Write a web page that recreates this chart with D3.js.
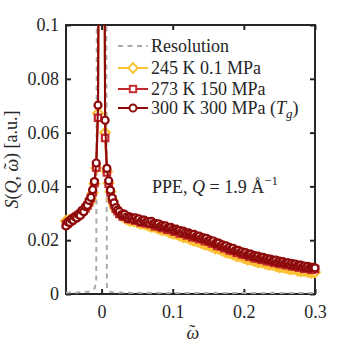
<!DOCTYPE html>
<meta charset="utf-8">
<body style="margin:0;background:#fff">
<script src="https://cdn.jsdelivr.net/npm/d3@7/dist/d3.min.js"></script>
<svg id="chart" width="349" height="349"></svg>
<script>

// energy transfer grid (reduced units)
var omega = [-0.05,-0.0475,-0.045,-0.0425,-0.04,-0.0375,-0.035,-0.0325,-0.03,-0.0275,
  -0.025,-0.0225,-0.02,-0.0175,-0.015,-0.0125,-0.01,-0.0075,-0.005,-0.0025,
  0,0.0025,0.005,0.0075,0.01,0.0125,0.015,0.0175,0.02,0.0225,
  0.025,0.0275,0.03,0.0325,0.035,0.0375,0.04,0.0425,0.045,0.0475,
  0.05,0.0525,0.055,0.0575,0.06,0.0625,0.065,0.0675,0.07,0.0725,
  0.075,0.0775,0.08,0.0825,0.085,0.0875,0.09,0.0925,0.095,0.0975,
  0.1,0.1025,0.105,0.1075,0.11,0.1125,0.115,0.1175,0.12,0.1225,
  0.125,0.1275,0.13,0.1325,0.135,0.1375,0.14,0.1425,0.145,0.1475,
  0.15,0.1525,0.155,0.1575,0.16,0.1625,0.165,0.1675,0.17,0.1725,
  0.175,0.1775,0.18,0.1825,0.185,0.1875,0.19,0.1925,0.195,0.1975,
  0.2,0.2025,0.205,0.2075,0.21,0.2125,0.215,0.2175,0.22,0.2225,
  0.225,0.2275,0.23,0.2325,0.235,0.2375,0.24,0.2425,0.245,0.2475,
  0.25,0.2525,0.255,0.2575,0.26,0.2625,0.265,0.2675,0.27,0.2725,
  0.275,0.2775,0.28,0.2825,0.285,0.2875,0.29,0.2925,0.295,0.2975,0.3];

var resolution = [.0006,.0005,.0006,.0005,.0006,.0006,.0005,.0006,.0007,.0006,
  .0007,.0008,.0008,.0009,.0011,.0014,.0020,.0045,.3,2,
  5,2,.3,.0018,.0010,.0008,.0007,.0006,.0006,.0005,
  .0005,.0006,.0005,.0005,.0004,.0005,.0005,.0004,.0005,.0005,
  .0004,.0005,.0004,.0004,.0005,.0004,.0004,.0005,.0004,.0004,
  .0004,.0005,.0004,.0004,.0004,.0005,.0004,.0004,.0004,.0004,
  .0005,.0004,.0004,.0004,.0004,.0005,.0004,.0004,.0004,.0004,
  .0004,.0005,.0004,.0004,.0004,.0004,.0004,.0005,.0004,.0004,
  .0004,.0004,.0004,.0004,.0005,.0004,.0004,.0004,.0004,.0004,
  .0004,.0004,.0005,.0004,.0004,.0004,.0004,.0004,.0004,.0004,
  .0004,.0004,.0004,.0005,.0004,.0004,.0004,.0004,.0004,.0004,
  .0004,.0004,.0004,.0004,.0004,.0004,.0005,.0004,.0004,.0004,
  .0004,.0004,.0004,.0004,.0004,.0004,.0004,.0004,.0004,.0005,
  .0004,.0004,.0004,.0004,.0004,.0004,.0004,.0004,.0004,.0004,.0004];

var s245 = [.0272,.0270,.0275,.0276,.0282,.0284,.0289,.0292,.0298,.0303,
  .0310,.0317,.0327,.0339,.0354,.0376,.0410,.0468,.0672,.23,
  1.15,.25,.0600,.0455,.0412,.0380,.0350,.0330,.0315,.0306,
  .0300,.0292,.0287,.0289,.0278,.0282,.0272,.0279,.0271,.0273,
  .0267,.0266,.0262,.0263,.0261,.0260,.0255,.0254,.0250,.0251,
  .0249,.0248,.0243,.0242,.0238,.0239,.0237,.0236,.0230,.0229,
  .0225,.0226,.0223,.0222,.0217,.0216,.0211,.0212,.0210,.0209,
  .0203,.0202,.0198,.0199,.0196,.0195,.0190,.0189,.0184,.0185,
  .0182,.0181,.0176,.0175,.0170,.0171,.0168,.0167,.0161,.0160,
  .0155,.0156,.0153,.0152,.0147,.0146,.0141,.0142,.0140,.0139,
  .0134,.0133,.0129,.0130,.0128,.0128,.0123,.0122,.0118,.0120,
  .0118,.0118,.0113,.0113,.0109,.0111,.0109,.0109,.0104,.0104,
  .0100,.0102,.0100,.0100,.0096,.0096,.0092,.0094,.0093,.0093,
  .0088,.0089,.0085,.0088,.0086,.0087,.0082,.0083,.0079,.0082,.0081];

var s273 = [.0258,.0262,.0268,.0273,.0279,.0283,.0287,.0293,.0298,.0305,
  .0311,.0319,.0329,.0341,.0357,.0378,.0412,.0470,.0655,.22,
  1.1,.24,.0580,.0452,.0410,.0378,.0352,.0333,.0317,.0308,
  .0298,.0299,.0288,.0289,.0288,.0279,.0283,.0278,.0281,.0273,
  .0274,.0274,.0266,.0272,.0268,.0263,.0268,.0260,.0261,.0261,
  .0252,.0256,.0251,.0254,.0245,.0247,.0248,.0239,.0243,.0238,
  .0241,.0232,.0234,.0234,.0225,.0229,.0224,.0227,.0218,.0220,
  .0220,.0211,.0215,.0210,.0212,.0204,.0206,.0206,.0197,.0200,
  .0195,.0196,.0188,.0189,.0189,.0179,.0183,.0177,.0179,.0170,
  .0172,.0171,.0162,.0165,.0160,.0162,.0153,.0155,.0155,.0147,
  .0150,.0145,.0147,.0139,.0141,.0141,.0133,.0137,.0132,.0134,
  .0127,.0129,.0130,.0122,.0126,.0121,.0124,.0116,.0119,.0119,
  .0112,.0116,.0111,.0114,.0107,.0109,.0110,.0103,.0106,.0102,
  .0105,.0098,.0100,.0101,.0094,.0098,.0094,.0097,.0090,.0093,.0093];

var s300 = [.0253,.0268,.0266,.0278,.0274,.0287,.0283,.0296,.0292,.0310,
  .0306,.0325,.0330,.0348,.0359,.0388,.0418,.0487,.0702,.24,
  1.2,.26,.0646,.0467,.0421,.0386,.0357,.0339,.0321,.0312,
  .0306,.0294,.0295,.0296,.0286,.0281,.0286,.0282,.0277,.0283,
  .0276,.0279,.0269,.0275,.0275,.0267,.0269,.0263,.0270,.0261,
  .0263,.0258,.0261,.0251,.0255,.0251,.0253,.0245,.0247,.0248,
  .0240,.0236,.0241,.0236,.0236,.0229,.0234,.0227,.0222,.0227,
  .0223,.0218,.0222,.0213,.0214,.0215,.0206,.0210,.0205,.0207,
  .0198,.0200,.0194,.0197,.0188,.0189,.0189,.0179,.0183,.0177,
  .0179,.0170,.0173,.0166,.0170,.0161,.0162,.0162,.0154,.0157,
  .0151,.0154,.0146,.0148,.0148,.0140,.0143,.0138,.0141,.0133,
  .0136,.0136,.0129,.0132,.0127,.0130,.0123,.0125,.0126,.0118,
  .0122,.0117,.0120,.0113,.0116,.0116,.0109,.0113,.0107,.0111,
  .0104,.0107,.0107,.0100,.0104,.0099,.0103,.0096,.0099,.0099,.0097];

var xTicks = [0, 0.1, 0.2, 0.3];
var xTickLabels = ["0", "0.1", "0.2", "0.3"];
var yTicks = [0, 0.02, 0.04, 0.06, 0.08, 0.1];
var yTickLabels = ["0", "0.02", "0.04", "0.06", "0.08", "0.1"];
var legendLabels = ["Resolution", "245 K 0.1 MPa", "273 K 150 MPa", "300 K 300 MPa"];

(function() {
var axisColor = "#262626";
var font = "'Liberation Serif', 'Times New Roman', serif";

var svg = d3.select("#chart");
var mLeft = 66, mRight = 315, mTop = 25, mBottom = 294;

var x = d3.scaleLinear().domain([-0.05, 0.3]).range([mLeft, mRight]);
var y = d3.scaleLinear().domain([0, 0.1]).range([mBottom, mTop]);

// axes (inward ticks, mirrored on all sides)
function styleAxis(g) {
  g.select(".domain").remove();
  g.selectAll(".tick line").attr("stroke", axisColor).attr("stroke-width", 2);
  g.selectAll(".tick text").attr("fill", axisColor)
    .style("font-family", font).style("font-size", "18px");
}
svg.append("g").attr("transform", "translate(0," + mBottom + ")")
  .call(d3.axisBottom(x).tickValues(xTicks).tickSizeInner(-5).tickSizeOuter(0)
    .tickPadding(11).tickFormat(function(d, i) { return xTickLabels[i]; }))
  .call(styleAxis);
svg.append("g").attr("transform", "translate(0," + mTop + ")")
  .call(d3.axisTop(x).tickValues(xTicks).tickSizeInner(-5).tickSizeOuter(0).tickFormat(""))
  .call(styleAxis);
svg.append("g").attr("transform", "translate(" + mLeft + ",0)")
  .call(d3.axisLeft(y).tickValues(yTicks).tickSizeInner(-5).tickSizeOuter(0)
    .tickPadding(7).tickFormat(function(d, i) { return yTickLabels[i]; }))
  .call(styleAxis);
svg.append("g").attr("transform", "translate(" + mRight + ",0)")
  .call(d3.axisRight(y).tickValues(yTicks).tickSizeInner(-5).tickSizeOuter(0).tickFormat(""))
  .call(styleAxis);

svg.append("rect")
  .attr("x", mLeft).attr("y", mTop)
  .attr("width", mRight - mLeft).attr("height", mBottom - mTop)
  .attr("fill", "none").attr("stroke", axisColor).attr("stroke-width", 2);

svg.append("clipPath").attr("id", "plotclip")
  .append("rect").attr("x", mLeft).attr("y", mTop)
  .attr("width", mRight - mLeft).attr("height", mBottom - mTop);

var series = [
  {name: legendLabels[0], values: resolution, color: "#aaaaaa", dash: "5,4.5", marker: null},
  {name: legendLabels[1], values: s245, color: "#fdc234", marker: "diamond"},
  {name: legendLabels[2], values: s273, color: "#c1272d", marker: "square"},
  {name: legendLabels[3], values: s300, color: "#8e0a0a", marker: "circle"}
];

var line = d3.line()
  .x(function(d, i) { return x(omega[i]); })
  .y(function(d) { return y(d); });

function drawMarker(g, kind, color, sw) {
  if (kind === "circle") {
    g.append("circle").attr("r", 3.5);
  } else if (kind === "square") {
    g.append("rect").attr("x", -3.2).attr("y", -3.2).attr("width", 6.4).attr("height", 6.4);
  } else if (kind === "diamond") {
    g.append("path").attr("d", "M0,-4.8L4.8,0L0,4.8L-4.8,0Z");
  }
  g.selectAll("*").attr("fill", "#fff").attr("stroke", color).attr("stroke-width", sw);
}

series.forEach(function(s) {
  var g = svg.append("g");
  g.append("path")
    .attr("clip-path", "url(#plotclip)")
    .attr("d", line(s.values))
    .attr("fill", "none")
    .attr("stroke", s.color)
    .attr("stroke-width", 2)
    .attr("stroke-dasharray", s.dash || null)
    .attr("stroke-linejoin", "round");
  if (s.marker) {
    s.values.forEach(function(v, i) {
      if (v > 0.1) return;
      var m = g.append("g").attr("transform", "translate(" + x(omega[i]) + "," + y(v) + ")");
      drawMarker(m, s.marker, s.color, 2.2);
    });
  }
});

// legend
var legendY = [46, 68, 89, 108];
series.forEach(function(s, i) {
  var g = svg.append("g").attr("transform", "translate(0," + legendY[i] + ")");
  g.append("line").attr("x1", 118).attr("x2", 148)
    .attr("stroke", s.color).attr("stroke-width", 2)
    .attr("stroke-dasharray", s.dash || null);
  if (s.marker) {
    var m = g.append("g").attr("transform", "translate(133,0)");
    drawMarker(m, s.marker, s.color, 1.9);
  }
  var t = g.append("text").attr("x", 151).attr("y", 6)
    .attr("fill", axisColor)
    .style("font-family", font).style("font-size", "18px");
  t.append("tspan").text(s.name);
  if (i === 3) {
    t.append("tspan").text(" (");
    t.append("tspan").style("font-style", "italic").text("T");
    t.append("tspan").style("font-style", "italic").style("font-size", "13px")
      .attr("dy", 4).text("g");
    t.append("tspan").attr("dy", -4).text(")");
  }
});

// annotation
var ann = svg.append("text").attr("x", 152).attr("y", 193)
  .attr("fill", axisColor)
  .style("font-family", font).style("font-size", "18px");
ann.append("tspan").text("PPE, ");
ann.append("tspan").style("font-style", "italic").text("Q");
ann.append("tspan").text(" = 1.9 Å");
ann.append("tspan").style("font-size", "13px").attr("dy", -8).text("−1");

// omega with tilde, placed by hand
function omegaTilde(t) {
  t.append("tspan").style("font-style", "italic").text("ω");
  t.append("tspan").attr("dx", -10).attr("dy", -1).text("˜");
  t.append("tspan").attr("dx", 4).attr("dy", 1).text("");
}

// axis labels
var xl = svg.append("text")
  .attr("x", (mLeft + mRight) / 2 - 4).attr("y", 339)
  .attr("fill", axisColor)
  .style("font-family", font).style("font-size", "18px");
omegaTilde(xl);

var yl = svg.append("text")
  .attr("transform", "translate(18," + ((mTop + mBottom) / 2) + ") rotate(-90)")
  .attr("text-anchor", "middle")
  .attr("fill", axisColor)
  .style("font-family", font).style("font-size", "18px");
yl.append("tspan").style("font-style", "italic").text("S");
yl.append("tspan").text("(");
yl.append("tspan").style("font-style", "italic").text("Q");
yl.append("tspan").text(", ");
omegaTilde(yl);
yl.append("tspan").attr("dx", 4).text(") [a.u.]");
})();

</script>
</body>
